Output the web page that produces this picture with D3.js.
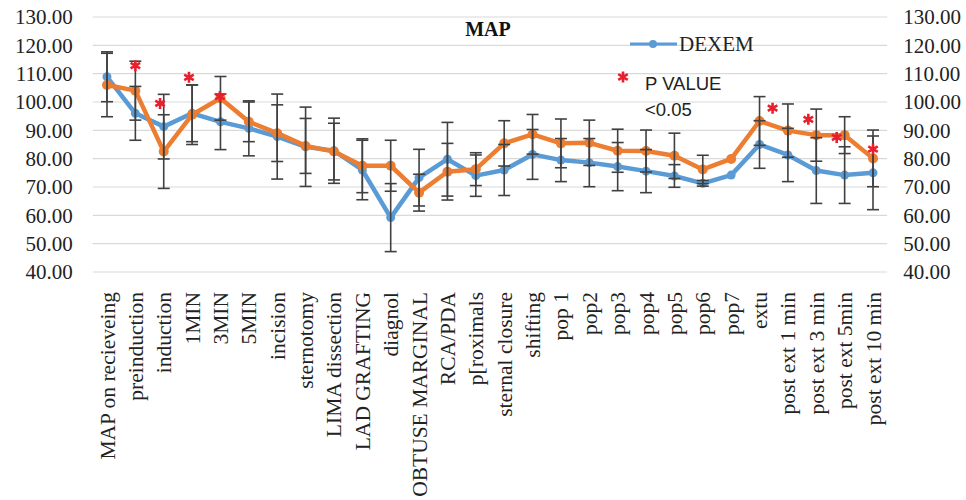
<!DOCTYPE html>
<html>
<head>
<meta charset="utf-8">
<script src="https://cdn.jsdelivr.net/npm/d3@7"></script>
<style>
  html, body { margin: 0; padding: 0; background: #fff; }
  svg { display: block; }
</style>
</head>
<body>
<svg id="chart" width="966" height="500"></svg>
<script>
const categories = ["MAP on recieveing", "preinduction", "induction", "1MIN", "3MIN", "5MIN", "incision", "sternotomy", "LIMA dissection", "LAD GRAFTING", "diagnol", "OBTUSE MARGINAL", "RCA/PDA", "p[roximals", "sternal closure", "shifting", "pop 1", "pop2", "pop3", "pop4", "pop5", "pop6", "pop7", "extu", "post ext 1 min", "post ext 3 min", "post ext 5min", "post ext 10 min"];

const dexemValues = [108.9, 96, 91.3, 96, 93, 90.7, 87.8, 84.2, 82.8, 76, 59.2, 73.3, 79.8, 74, 76, 81.5, 79.5, 78.6, 77.2, 75.6, 73.9, 71.3, 74.2, 85, 81.3, 75.8, 74.2, 75];
const dexemErrors = [8.8, 9.5, 11.4, 10, 9.8, 9.7, 15, 14, 11.5, 10.5, 12, 10, 13, 7.3, 9, 8.8, 7.6, 8.5, 8.5, 7.6, 4, 1, 0, 8.4, 9.4, 11.6, 10, 13];

const otherValues = [106, 104, 82.5, 95.5, 101.3, 93, 89, 84.5, 82.5, 77.5, 77.5, 68, 75.4, 76.3, 85.4, 88.6, 85.4, 85.6, 82.8, 82.7, 81, 76.2, 79.9, 93.3, 89.9, 88.3, 88.3, 80.1];
const otherErrors = [11.2, 10.4, 13, 10.5, 7.7, 7, 10, 9.7, 10, 9.5, 9, 6.5, 10, 5.8, 8, 7, 8.6, 8, 7.6, 7.4, 8, 5, 0, 8.6, 9.4, 9.2, 6.5, 10];

// significance asterisks: position along categories (index) and value
const sigIndex = [1, 1.87, 2.89, 3.98, 23.46, 24.72, 25.72, 27];
const sigValues = [112.8, 99.5, 108.7, 101.9, 97.8, 93.9, 87.5, 83.4];

const yTicks = [40, 50, 60, 70, 80, 90, 100, 110, 120, 130];
const titleText = "MAP";
const legendSeries = "DEXEM";
const legendNote = ["P VALUE", "<0.05"];

const BLUE = "#5B9BD5", ORANGE = "#ED7D31", RED = "#E8202E", ERR = "#404040", GRID = "#d9d9d9";
const serif = "'Liberation Serif', 'Times New Roman', serif";
const sans = "'Liberation Sans', Arial, sans-serif";

const svg = d3.select("#chart");
const L = 92.8, R = 887.2, T = 17, B = 272;

const x = d3.scaleBand().domain(categories).range([L, R]).padding(0);
const cx = c => x(c) + x.bandwidth() / 2;
const xi = d3.scaleLinear().domain([0, categories.length - 1])
  .range([cx(categories[0]), cx(categories[categories.length - 1])]);
const y = d3.scaleLinear().domain([40, 130]).range([B, T]);

// gridlines
svg.append("g").selectAll("line").data(yTicks).join("line")
  .attr("x1", L).attr("x2", R)
  .attr("y1", d => y(d)).attr("y2", d => y(d))
  .attr("stroke", GRID).attr("stroke-width", 1.2);

// left axis
const fmt = d3.format(".2f");
const leftAxis = svg.append("g").attr("transform", `translate(${L - 20},0)`)
  .call(d3.axisLeft(y).tickValues(yTicks).tickFormat(fmt).tickSize(0).tickPadding(0));
leftAxis.select(".domain").remove();
leftAxis.selectAll("text").attr("font-family", serif).attr("font-size", 21).attr("fill", "#222");

const rightAxis = svg.append("g").attr("transform", `translate(${R + 16},0)`)
  .call(d3.axisRight(y).tickValues(yTicks).tickFormat(fmt).tickSize(0).tickPadding(0));
rightAxis.select(".domain").remove();
rightAxis.selectAll("text").attr("font-family", serif).attr("font-size", 21).attr("fill", "#222");

// x axis
const xAxis = svg.append("g").attr("transform", `translate(0,${B})`)
  .call(d3.axisBottom(x).tickSize(0).tickPadding(0));
xAxis.select(".domain").remove();
xAxis.selectAll("text")
  .attr("font-family", serif).attr("font-size", 21.5).attr("fill", "#222")
  .attr("text-anchor", "end")
  .attr("transform", "translate(0,20) rotate(-90)")
  .attr("x", 0).attr("y", 0).attr("dy", "0.35em");

// lines
const line = d3.line().x((d, i) => cx(categories[i])).y(d => y(d));
function drawSeries(values, color, width, r) {
  svg.append("path").datum(values)
    .attr("d", line).attr("fill", "none")
    .attr("stroke", color).attr("stroke-width", width)
    .attr("stroke-linejoin", "round");
  svg.append("g").selectAll("circle").data(values).join("circle")
    .attr("cx", (d, i) => cx(categories[i])).attr("cy", d => y(d))
    .attr("r", r).attr("fill", color);
}
drawSeries(dexemValues, BLUE, 4.5, 4.5);
drawSeries(otherValues, ORANGE, 4.5, 5);

// error bars
function drawErrors(values, errors) {
  const g = svg.append("g").attr("stroke", ERR).attr("stroke-width", 1.6);
  values.forEach((v, i) => {
    const e = errors[i];
    if (!e) return;
    const px = cx(categories[i]);
    g.append("line").attr("x1", px).attr("x2", px).attr("y1", y(v + e)).attr("y2", y(v - e));
    g.append("line").attr("x1", px - 6).attr("x2", px + 6).attr("y1", y(v + e)).attr("y2", y(v + e));
    g.append("line").attr("x1", px - 6).attr("x2", px + 6).attr("y1", y(v - e)).attr("y2", y(v - e));
  });
}
drawErrors(dexemValues, dexemErrors);
drawErrors(otherValues, otherErrors);

// asterisks
const star = d3.symbol().type(d3.symbolAsterisk).size(85);
svg.append("g").selectAll("path").data(sigIndex).join("path")
  .attr("d", star)
  .attr("transform", (d, i) => `translate(${xi(d)},${y(sigValues[i])})`)
  .attr("fill", "none").attr("stroke", RED).attr("stroke-width", 2.6);

// title
svg.append("text").attr("x", 488).attr("y", 36)
  .attr("text-anchor", "middle").attr("font-family", serif)
  .attr("font-weight", "bold").attr("font-size", 20).attr("fill", "#111")
  .text(titleText);

// legend
const lg = svg.append("g");
lg.append("line").attr("x1", 630).attr("x2", 677).attr("y1", 44).attr("y2", 44)
  .attr("stroke", BLUE).attr("stroke-width", 3);
lg.append("circle").attr("cx", 653).attr("cy", 44).attr("r", 4).attr("fill", BLUE);
lg.append("text").attr("x", 679).attr("y", 51).attr("font-family", serif)
  .attr("font-size", 21).attr("fill", "#222").text(legendSeries);
lg.append("path").attr("d", star).attr("transform", "translate(623,77)")
  .attr("fill", "none").attr("stroke", RED).attr("stroke-width", 2.6);
lg.append("text").attr("x", 645).attr("y", 90).attr("font-family", sans)
  .attr("font-size", 18.5).attr("fill", "#222").text(legendNote[0]);
lg.append("text").attr("x", 645).attr("y", 116).attr("font-family", sans)
  .attr("font-size", 18.5).attr("fill", "#222").text(legendNote[1]);
</script>
</body>
</html>
